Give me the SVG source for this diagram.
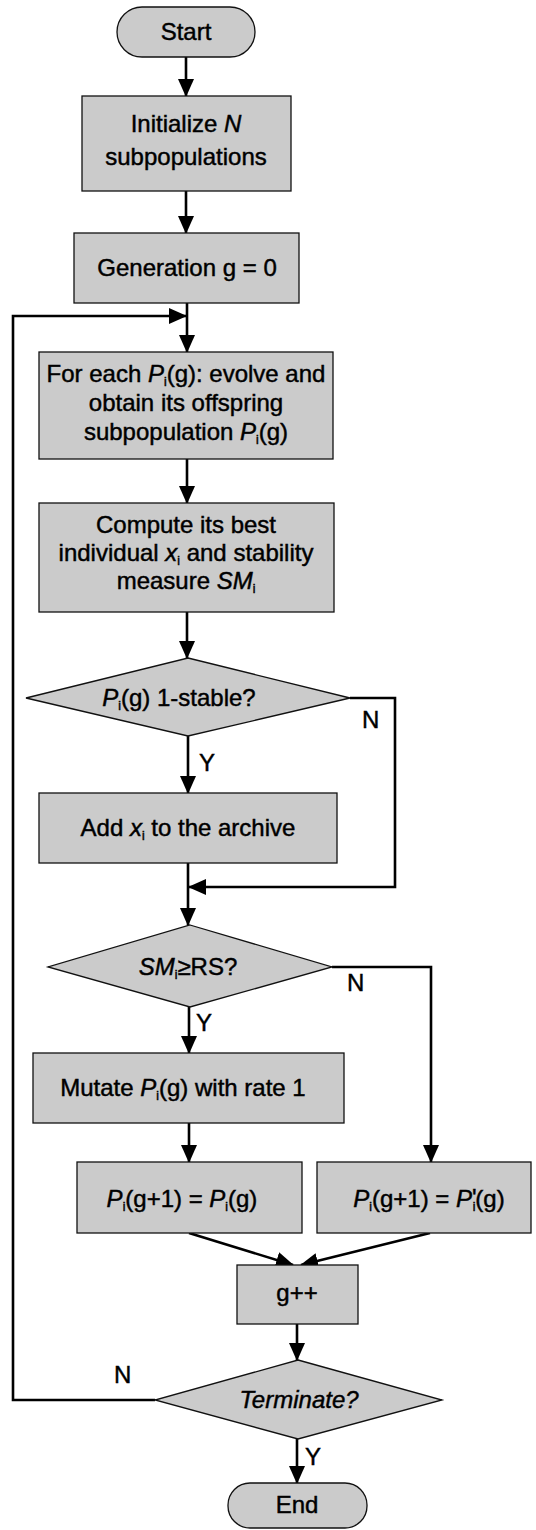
<svg xmlns="http://www.w3.org/2000/svg" width="536" height="1530" viewBox="0 0 536 1530">
  <style>
    .box { fill: #cbcbcb; stroke: #111; stroke-width: 1.3; }
    .t { font-family: "Liberation Sans", Arial, sans-serif; font-size: 24px; fill: #000; stroke: #000; stroke-width: 0.45; text-anchor: middle; }
    .lbl { font-family: "Liberation Sans", Arial, sans-serif; font-size: 24px; fill: #000; stroke: #000; stroke-width: 0.45; }
    .it { font-style: italic; }
    .sub { font-size: 12px; }
    .edge { fill: none; stroke: #000; stroke-width: 2.6; }
  </style>
  <defs>
    <marker id="arrow" markerUnits="userSpaceOnUse" markerWidth="18" markerHeight="16" refX="17" refY="8" orient="auto">
      <path d="M0,0 L18,8 L0,16 Z" fill="#000"/>
    </marker>
  </defs>
  <rect width="536" height="1530" fill="#fff"/>

  <!-- connectors -->
  <g id="edges">
    <line class="edge" x1="186" y1="57" x2="186" y2="96" marker-end="url(#arrow)"/>
    <line class="edge" x1="186" y1="191" x2="186" y2="233" marker-end="url(#arrow)"/>
    <line class="edge" x1="187" y1="303" x2="187" y2="352" marker-end="url(#arrow)"/>
    <line class="edge" x1="187" y1="459" x2="187" y2="503" marker-end="url(#arrow)"/>
    <line class="edge" x1="187" y1="612" x2="187" y2="658" marker-end="url(#arrow)"/>
    <line class="edge" x1="188" y1="736" x2="188" y2="793" marker-end="url(#arrow)"/>
    <polyline class="edge" points="350,698 395,698 395,887 189,887" marker-end="url(#arrow)"/>
    <line class="edge" x1="188" y1="863" x2="188" y2="925" marker-end="url(#arrow)"/>
    <line class="edge" x1="189" y1="1007" x2="189" y2="1053" marker-end="url(#arrow)"/>
    <polyline class="edge" points="332,967 431,967 431,1162" marker-end="url(#arrow)"/>
    <line class="edge" x1="189" y1="1123" x2="189" y2="1162" marker-end="url(#arrow)"/>
    <line class="edge" x1="189" y1="1233" x2="293" y2="1265" marker-end="url(#arrow)"/>
    <line class="edge" x1="430" y1="1233" x2="301" y2="1265" marker-end="url(#arrow)"/>
    <line class="edge" x1="297" y1="1324" x2="297" y2="1360" marker-end="url(#arrow)"/>
    <polyline class="edge" points="155,1400 13,1400 13,316 186,316" marker-end="url(#arrow)"/>
    <line class="edge" x1="297" y1="1439" x2="297" y2="1483" marker-end="url(#arrow)"/>
  </g>

  <!-- edge labels -->
  <g id="edge-labels">
    <text class="lbl" x="362" y="728">N</text>
    <text class="lbl" x="199" y="771">Y</text>
    <text class="lbl" x="347" y="991">N</text>
    <text class="lbl" x="196" y="1031">Y</text>
    <text class="lbl" x="114" y="1383">N</text>
    <text class="lbl" x="305" y="1465">Y</text>
  </g>

  <g id="start">
    <rect class="box" x="117" y="7" width="138" height="50" rx="25" ry="25"/>
    <text class="t" x="186" y="40">Start</text>
  </g>

  <g id="init">
    <rect class="box" x="82" y="96" width="209" height="95"/>
    <text class="t" x="186" y="132">Initialize <tspan class="it">N</tspan></text>
    <text class="t" x="186" y="165">subpopulations</text>
  </g>

  <g id="gen0">
    <rect class="box" x="74" y="233" width="225" height="70"/>
    <text class="t" x="187" y="276">Generation g = 0</text>
  </g>

  <g id="evolve">
    <rect class="box" x="39" y="352" width="294" height="107"/>
    <text class="t" x="186" y="382">For each <tspan class="it">P</tspan><tspan class="sub" dy="4">i</tspan><tspan dy="-4">(g): evolve and</tspan></text>
    <text class="t" x="186" y="411">obtain its offspring</text>
    <text class="t" x="186" y="440">subpopulation <tspan class="it">P</tspan><tspan class="sub" dy="4">i</tspan><tspan dy="-4">(g)</tspan></text>
  </g>

  <g id="compute">
    <rect class="box" x="39" y="503" width="295" height="109"/>
    <text class="t" x="186" y="533">Compute its best</text>
    <text class="t" x="186" y="561">individual <tspan class="it">x</tspan><tspan class="sub" dy="4">i</tspan><tspan dy="-4"> and stability</tspan></text>
    <text class="t" x="186" y="589">measure <tspan class="it">SM</tspan><tspan class="sub" dy="4">i</tspan></text>
  </g>

  <g id="stable">
    <polygon class="box" points="188,658 350,698 188,736 26,698"/>
    <text class="t" x="179" y="706"><tspan class="it">P</tspan><tspan class="sub" dy="4">i</tspan><tspan dy="-4">(g) 1-stable?</tspan></text>
  </g>

  <g id="archive">
    <rect class="box" x="39" y="793" width="298" height="70"/>
    <text class="t" x="188" y="836">Add <tspan class="it">x</tspan><tspan class="sub" dy="4">i</tspan><tspan dy="-4"> to the archive</tspan></text>
  </g>

  <g id="rs">
    <polygon class="box" points="190,925 332,967 190,1007 48,967"/>
    <text class="t" x="188" y="975"><tspan class="it">SM</tspan><tspan class="sub" dy="4">i</tspan><tspan dy="-4">≥RS?</tspan></text>
  </g>

  <g id="mutate">
    <rect class="box" x="33" y="1053" width="311" height="70"/>
    <text class="t" x="183" y="1096">Mutate <tspan class="it">P</tspan><tspan class="sub" dy="4">i</tspan><tspan dy="-4">(g) with rate 1</tspan></text>
  </g>

  <g id="keep">
    <rect class="box" x="77" y="1162" width="225" height="71"/>
    <text class="t" x="182" y="1207"><tspan class="it">P</tspan><tspan class="sub" dy="4">i</tspan><tspan dy="-4">(g+1) = </tspan><tspan class="it">P</tspan><tspan class="sub" dy="4">i</tspan><tspan dy="-4">(g)</tspan></text>
  </g>

  <g id="replace">
    <rect class="box" x="317" y="1162" width="214" height="71"/>
    <text class="t" x="429" y="1207"><tspan class="it">P</tspan><tspan class="sub" dy="4">i</tspan><tspan dy="-4">(g+1) = </tspan><tspan class="it">P</tspan><tspan dy="-1">'</tspan><tspan class="sub" dx="-4" dy="5">i</tspan><tspan dy="-4">(g)</tspan></text>
  </g>

  <g id="inc">
    <rect class="box" x="237" y="1265" width="121" height="59"/>
    <text class="t" x="297" y="1301">g++</text>
  </g>

  <g id="terminate">
    <polygon class="box" points="298,1360 442,1400 298,1439 155,1400"/>
    <text class="t it" x="299" y="1408">Terminate?</text>
  </g>

  <g id="end">
    <rect class="box" x="228" y="1483" width="139" height="45" rx="22" ry="22"/>
    <text class="t" x="297" y="1513">End</text>
  </g>
</svg>
